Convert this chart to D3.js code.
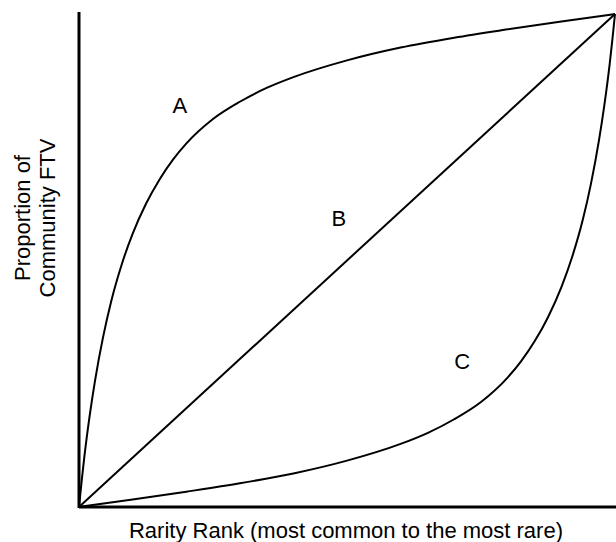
<!DOCTYPE html>
<html><head><meta charset="utf-8">
<script src="https://cdn.jsdelivr.net/npm/d3@7"></script>
<style>body{margin:0;background:#fff;} svg{display:block;}</style>
</head><body>
<svg id="chart" width="616" height="542"></svg>
<script>
// Data (normalized rarity rank vs cumulative proportion of community FTV)
const curveA = [[0,0],[0.005,0.053],[0.01,0.102],[0.02,0.186],[0.03,0.257],[0.045,0.345],[0.06,0.417],[0.08,0.493],[0.1,0.554],[0.125,0.615],[0.15,0.664],[0.175,0.704],[0.2,0.737],[0.25,0.787],[0.3,0.822],[0.35,0.850],[0.4,0.872],[0.5,0.906],[0.6,0.932],[0.7,0.952],[0.8,0.969],[0.9,0.985],[1,1]];
const curveB = [[0,0],[1,1]];
const curveC = [[0,0],[0.1,0.015],[0.2,0.031],[0.3,0.048],[0.4,0.068],[0.5,0.094],[0.6,0.128],[0.65,0.150],[0.7,0.178],[0.75,0.213],[0.8,0.263],[0.825,0.296],[0.85,0.336],[0.875,0.385],[0.9,0.446],[0.92,0.507],[0.94,0.583],[0.955,0.655],[0.97,0.743],[0.98,0.814],[0.99,0.898],[0.995,0.947],[1,1]];
const labels = [{t:"A",x:0.188,y:0.799},{t:"B",x:0.485,y:0.570},{t:"C",x:0.715,y:0.280}];
const xTitle = "Rarity Rank (most common to the most rare)";
const yTitle = ["Proportion of","Community FTV"];

const svg = d3.select("#chart");
const x = d3.scaleLinear().domain([0,1]).range([79,615]);
const y = d3.scaleLinear().domain([0,1]).range([507,14]);

const font = "Liberation Sans, Arial, Helvetica, sans-serif";

// axes without ticks
svg.append("g").attr("transform","translate(0,507)")
  .call(d3.axisBottom(x).ticks(0).tickSizeOuter(0).tickSizeInner(0))
  .call(g=>g.select(".domain").attr("stroke","#000").attr("stroke-width",3).attr("d","M79,0H616"));
svg.append("g").attr("transform","translate(79,0)")
  .call(d3.axisLeft(y).ticks(0).tickSizeOuter(0).tickSizeInner(0))
  .call(g=>g.select(".domain").attr("stroke","#000").attr("stroke-width",3).attr("d","M0,12V508"));

const line = d3.line().x(d=>x(d[0])).y(d=>y(d[1])).curve(d3.curveMonotoneX);
[curveA, curveB, curveC].forEach(c=>{
  svg.append("path").datum(c).attr("d",line).attr("fill","none").attr("stroke","#000").attr("stroke-width",2);
});

svg.selectAll("text.lbl").data(labels).enter().append("text").attr("class","lbl")
  .attr("x",d=>x(d.x)).attr("y",d=>y(d.y)).attr("text-anchor","middle")
  .attr("font-family",font).attr("font-size",22).text(d=>d.t);

svg.append("text").attr("x",346).attr("y",538).attr("text-anchor","middle")
  .attr("font-family",font).attr("font-size",22).text(xTitle);

const yt = svg.append("text").attr("transform","translate(30,218) rotate(-90)")
  .attr("text-anchor","middle").attr("font-family",font).attr("font-size",22);
yt.append("tspan").attr("x",0).attr("y",0).text(yTitle[0]);
yt.append("tspan").attr("x",0).attr("y",25).text(yTitle[1]);
</script>
</body></html>
